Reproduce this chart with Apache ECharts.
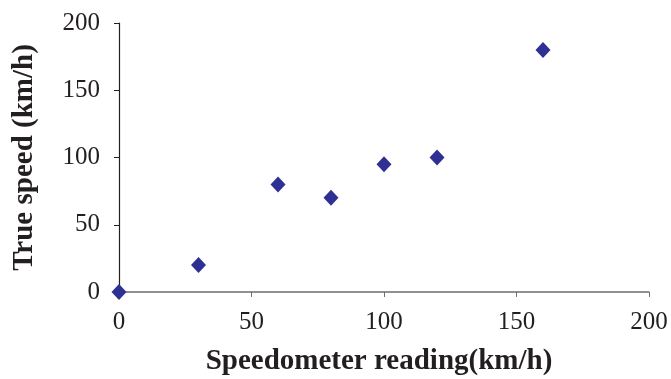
<!DOCTYPE html>
<html>
<head>
<meta charset="utf-8">
<script src="https://cdn.jsdelivr.net/npm/echarts@6/dist/echarts.min.js"></script>
<style>html,body{margin:0;padding:0;background:#fff}#c{width:671px;height:379px}</style>
</head>
<body>
<div id="c"></div>
<script>
const speedometer = [0, 30, 60, 80, 100, 120, 160];
const trueSpeed = [0, 20, 80, 70, 95, 100, 180];
const xTitle = 'Speedometer reading(km/h)';
const yTitle = 'True speed (km/h)';

const chart = echarts.init(document.getElementById('c'));
const font = '"Liberation Serif", "Times New Roman", serif';
chart.setOption({
  animation: false,
  grid: { left: 119, right: 22, top: 23, bottom: 87, containLabel: false, outerBoundsMode: 'none' },
  xAxis: {
    type: 'value', min: 0, max: 200, interval: 50,
    name: xTitle, nameLocation: 'middle', nameGap: 55,
    nameTextStyle: { fontFamily: font, fontSize: 29, fontWeight: 'bold', color: '#231f20', padding: [0, 10, 0, 0] },
    axisLine: { show: true, lineStyle: { color: '#6d6e71', width: 1.5 } },
    axisTick: { show: true, length: 5, lineStyle: { color: '#6d6e71' } },
    axisLabel: { fontFamily: font, fontSize: 25, color: '#231f20', margin: 18 },
    splitLine: { show: false }
  },
  yAxis: {
    type: 'value', min: 0, max: 200, interval: 50,
    name: yTitle, nameLocation: 'middle', nameGap: 80, nameRotate: 90,
    nameTextStyle: { fontFamily: font, fontSize: 29, fontWeight: 'bold', color: '#231f20' },
    axisLine: { show: true, lineStyle: { color: '#231f20', width: 1.2 } },
    axisTick: { show: true, length: 5, lineStyle: { color: '#231f20' } },
    axisLabel: { fontFamily: font, fontSize: 25, color: '#231f20', margin: 19 },
    splitLine: { show: false }
  },
  series: [{
    type: 'scatter',
    data: speedometer.map((x, i) => [x, trueSpeed[i]]),
    symbol: 'diamond', symbolSize: [15, 16],
    itemStyle: { color: '#2e3192', opacity: 1 }
  }]
});
</script>
</body>
</html>
